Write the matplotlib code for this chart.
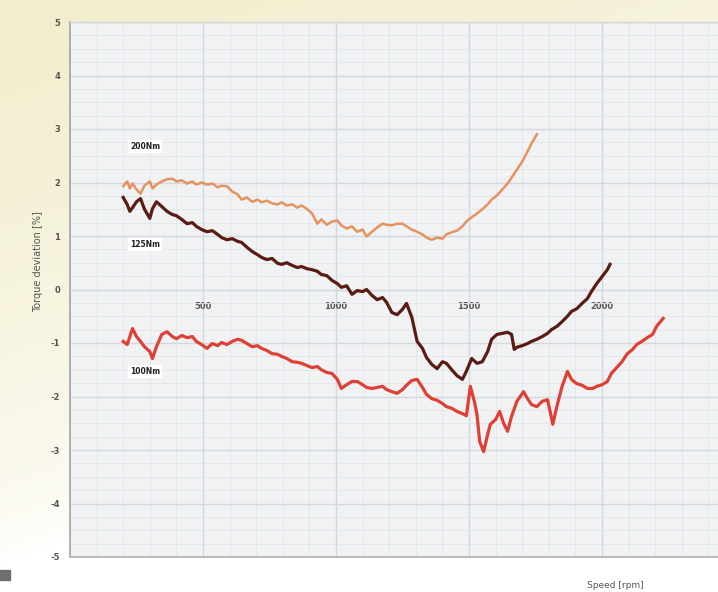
import matplotlib
matplotlib.use('Agg')
import matplotlib.pyplot as plt
import numpy as np
from matplotlib.patches import Rectangle

# torque deviation [%] against speed [rpm]

rpm_200 = [200, 215, 225, 235, 250, 265, 280, 300, 310, 325,
           345, 365, 385, 400, 420, 440, 460, 475, 495, 515,
           535, 555, 570, 590, 610, 630, 645, 665, 685, 705,
           720, 740, 760, 780, 795, 815, 835, 855, 870, 890,
           910, 930, 945, 965, 985, 1005, 1020, 1040, 1060, 1080,
           1100, 1115, 1135, 1155, 1175, 1190, 1210, 1230, 1250, 1265,
           1285, 1305, 1325, 1340, 1360, 1380, 1400, 1415, 1435, 1455,
           1475, 1490, 1510, 1530, 1550, 1570, 1585, 1605, 1625, 1645,
           1660, 1680, 1700, 1720, 1735, 1755]
dev_200 = [1.93, 2.02, 1.89, 1.98, 1.87, 1.79, 1.94, 2.02, 1.89, 1.96,
           2.02, 2.06, 2.07, 2.02, 2.04, 1.98, 2.02, 1.96, 2.00, 1.96,
           1.98, 1.91, 1.94, 1.93, 1.83, 1.78, 1.68, 1.72, 1.64, 1.68,
           1.63, 1.66, 1.61, 1.59, 1.63, 1.57, 1.59, 1.53, 1.57, 1.51,
           1.42, 1.23, 1.31, 1.21, 1.27, 1.29, 1.20, 1.14, 1.18, 1.08,
           1.12, 0.99, 1.08, 1.16, 1.23, 1.21, 1.20, 1.23, 1.23, 1.18,
           1.12, 1.08, 1.03, 0.97, 0.93, 0.97, 0.95, 1.03, 1.07, 1.10,
           1.18, 1.27, 1.35, 1.42, 1.50, 1.59, 1.68, 1.76, 1.87, 1.98,
           2.09, 2.24, 2.39, 2.58, 2.73, 2.90]

rpm_125 = [200, 215, 225, 235, 250, 265, 280, 300, 310, 325,
           345, 365, 385, 400, 420, 440, 460, 475, 495, 515,
           535, 555, 570, 590, 610, 630, 645, 665, 685, 705,
           720, 740, 760, 780, 795, 815, 835, 855, 870, 890,
           910, 930, 945, 965, 985, 1005, 1020, 1040, 1060, 1080,
           1100, 1115, 1135, 1155, 1175, 1190, 1210, 1230, 1250, 1265,
           1285, 1305, 1325, 1340, 1360, 1380, 1400, 1415, 1435, 1455,
           1475, 1490, 1510, 1530, 1550, 1570, 1585, 1605, 1625, 1645,
           1660, 1670, 1680, 1700, 1720, 1735, 1755, 1775, 1795, 1810,
           1830, 1850, 1870, 1885, 1905, 1925, 1945, 1960, 1980, 2000,
           2020, 2030]
dev_125 = [1.72, 1.59, 1.46, 1.53, 1.64, 1.70, 1.50, 1.33, 1.51, 1.64,
           1.55, 1.46, 1.40, 1.38, 1.31, 1.23, 1.25, 1.18, 1.12, 1.08,
           1.10, 1.03, 0.97, 0.93, 0.95, 0.90, 0.88, 0.79, 0.71, 0.65,
           0.60, 0.56, 0.58, 0.49, 0.47, 0.50, 0.45, 0.41, 0.43, 0.39,
           0.37, 0.34, 0.28, 0.26, 0.17, 0.11, 0.04, 0.07, -0.09, -0.02,
           -0.04, 0.00, -0.11, -0.19, -0.15, -0.24, -0.43, -0.47, -0.37, -0.26,
           -0.52, -0.97, -1.10, -1.27, -1.40, -1.48, -1.35, -1.38, -1.50, -1.61,
           -1.68, -1.53, -1.29, -1.38, -1.35, -1.16, -0.93, -0.84, -0.82, -0.80,
           -0.84, -1.12, -1.08, -1.05, -1.01, -0.97, -0.93, -0.88, -0.82, -0.75,
           -0.69, -0.60, -0.50, -0.41, -0.36, -0.26, -0.17, -0.04, 0.11, 0.24,
           0.37, 0.47]

rpm_100 = [200, 215, 225, 235, 250, 265, 280, 300, 310, 325,
           345, 365, 385, 400, 420, 440, 460, 475, 495, 515,
           535, 555, 570, 590, 610, 630, 645, 665, 685, 705,
           720, 740, 760, 780, 795, 815, 835, 855, 870, 890,
           910, 930, 945, 965, 985, 1005, 1020, 1040, 1060, 1080,
           1100, 1115, 1135, 1155, 1175, 1190, 1210, 1230, 1250, 1265,
           1285, 1305, 1325, 1340, 1360, 1380, 1400, 1415, 1435, 1455,
           1475, 1490, 1505, 1520, 1530, 1540, 1555, 1570, 1580, 1600,
           1615, 1630, 1645, 1660, 1680, 1705, 1720, 1735, 1755, 1775,
           1795, 1805, 1815, 1830, 1850, 1870, 1885, 1905, 1925, 1945,
           1965, 1980, 2000, 2020, 2035, 2055, 2075, 2095, 2115, 2130,
           2150, 2170, 2190, 2205, 2230]
dev_100 = [-0.97, -1.03, -0.88, -0.73, -0.88, -0.97, -1.07, -1.16, -1.29, -1.07,
           -0.84, -0.79, -0.88, -0.92, -0.86, -0.90, -0.88, -0.97, -1.03, -1.10,
           -1.01, -1.05, -0.99, -1.03, -0.97, -0.93, -0.95, -1.01, -1.07, -1.05,
           -1.10, -1.14, -1.20, -1.21, -1.25, -1.29, -1.35, -1.36, -1.38, -1.42,
           -1.46, -1.44, -1.50, -1.55, -1.57, -1.68, -1.85, -1.78, -1.72, -1.72,
           -1.78, -1.83, -1.85, -1.83, -1.81, -1.87, -1.91, -1.94, -1.87, -1.79,
           -1.70, -1.68, -1.83, -1.96, -2.04, -2.07, -2.13, -2.19, -2.22, -2.28,
           -2.32, -2.36, -1.81, -2.09, -2.34, -2.84, -3.03, -2.71, -2.52, -2.43,
           -2.28, -2.50, -2.65, -2.37, -2.09, -1.91, -2.04, -2.15, -2.19, -2.09,
           -2.06, -2.28, -2.52, -2.19, -1.81, -1.53, -1.68, -1.76, -1.79, -1.85,
           -1.85, -1.81, -1.78, -1.72, -1.57, -1.46, -1.35, -1.20, -1.12, -1.03,
           -0.97, -0.90, -0.84, -0.69, -0.54]

series = [
    (rpm_200, dev_200, '200Nm', '#e5925f', 1.8),
    (rpm_125, dev_125, '125Nm', '#5a1b12', 2.3),
    (rpm_100, dev_100, '100Nm', '#df4036', 2.3),
]
# where the little name boxes sit (rpm, %)
label_spots = {'200Nm': (282, 2.67), '125Nm': (282, 0.84), '100Nm': (282, -1.53)}

x_ticks = [500, 1000, 1500, 2000]
y_ticks = list(range(-5, 6))

plt.rcParams['axes.unicode_minus'] = False

fig = plt.figure(figsize=(7.18, 5.92), dpi=100)

# beige wash in the top left corner of the page
bg = fig.add_axes([0, 0, 1, 1], zorder=0)
bg.axis('off')
yy, xx = np.mgrid[0:1:200j, 0:1:240j]
t = np.clip(1.0 - (0.45 * xx + 1.05 * yy), 0, 1) ** 0.6
beige = np.array([0.95, 0.93, 0.80])
white = np.array([1.0, 1.0, 1.0])
grad = white * (1 - t[..., None]) + beige * t[..., None]
bg.imshow(grad, extent=[0, 1, 0, 1], aspect='auto', origin='upper')
bg.set_xlim(0, 1)
bg.set_ylim(0, 1)
bg.add_patch(Rectangle((0.0, 0.02), 0.014, 0.018, color='#6e6e6e'))

ax = fig.add_axes([70 / 718, 35 / 592, 648 / 718, 535 / 592], zorder=1)
ax.set_facecolor('#f0f2f4')
ax.set_xlim(0, 2436)
ax.set_ylim(-5, 5)

ax.set_xticks(x_ticks)
ax.set_xticks(np.arange(0, 2500, 100), minor=True)
ax.set_yticks(y_ticks)
ax.set_yticks(np.arange(-5, 5.01, 0.25), minor=True)
ax.set_xticklabels([str(v) for v in x_ticks])
ax.set_yticklabels([str(v) for v in y_ticks])
ax.grid(which='minor', color='#e2e6e9', lw=0.6)
ax.grid(which='major', color='#d2d7db', lw=1.0)
ax.set_axisbelow(True)

for side in ['top', 'right']:
    ax.spines[side].set_visible(False)
ax.spines['left'].set_color('#a8a8a8')
ax.spines['left'].set_linewidth(1.3)
# x axis runs through zero, the frame stays at the bottom
ax.spines['bottom'].set_position(('data', 0))
ax.spines['bottom'].set_color('#d2d7db')
ax.axhline(-5, color='#b4b4b4', lw=1.3, clip_on=False, zorder=3)
ax.axhline(5, color='#d2d6d9', lw=1.0, clip_on=False, zorder=3)

ax.tick_params(axis='both', which='both', length=0)
ax.tick_params(axis='x', pad=9, labelsize=6, labelcolor='#555555')
ax.tick_params(axis='y', pad=7, labelsize=6, labelcolor='#555555')
for lbl in ax.get_xticklabels() + ax.get_yticklabels():
    lbl.set_fontweight('bold')

for x, y, name, colour, width in series:
    ax.plot(x, y, color=colour, lw=width, zorder=4)
    lx, ly = label_spots[name]
    ax.text(lx, ly, name, ha='center', va='center', fontsize=5.5, weight='bold',
            color='#222222', zorder=5,
            bbox=dict(facecolor='white', edgecolor='none', pad=1.5))

fig.text(38 / 718, 1 - 262 / 592, 'Torque deviation [%]', rotation=90,
         ha='center', va='center', fontsize=7, color='#555555')
fig.text(615 / 718, 1 - 586 / 592, 'Speed [rpm]', ha='center', va='center',
         fontsize=6.5, color='#555555')

fig.savefig('out.png', dpi=100)
